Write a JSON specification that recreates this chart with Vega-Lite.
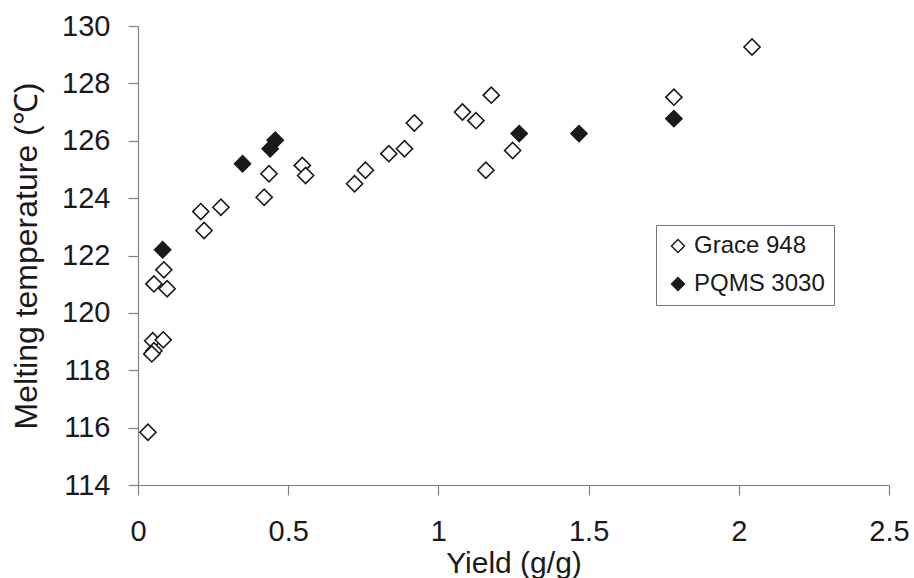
{
  "$schema": "https://vega.github.io/schema/vega-lite/v6.json",
  "width": 751,
  "height": 459,
  "autosize": {"type": "none"},
  "padding": {"left": 138, "top": 26, "right": 25, "bottom": 93},
  "background": "white",
  "config": {
    "view": {"stroke": null},
    "font": "Liberation Sans"
  },
  "data": {
    "values": [
      {"yield": 0.033, "temp": 115.84, "series": "Grace 948"},
      {"yield": 0.049, "temp": 119.03, "series": "Grace 948"},
      {"yield": 0.084, "temp": 119.06, "series": "Grace 948"},
      {"yield": 0.053, "temp": 118.68, "series": "Grace 948"},
      {"yield": 0.046, "temp": 118.57, "series": "Grace 948"},
      {"yield": 0.053, "temp": 121.01, "series": "Grace 948"},
      {"yield": 0.086, "temp": 121.5, "series": "Grace 948"},
      {"yield": 0.097, "temp": 120.84, "series": "Grace 948"},
      {"yield": 0.209, "temp": 123.53, "series": "Grace 948"},
      {"yield": 0.276, "temp": 123.68, "series": "Grace 948"},
      {"yield": 0.22, "temp": 122.87, "series": "Grace 948"},
      {"yield": 0.436, "temp": 124.85, "series": "Grace 948"},
      {"yield": 0.42, "temp": 124.03, "series": "Grace 948"},
      {"yield": 0.547, "temp": 125.14, "series": "Grace 948"},
      {"yield": 0.558, "temp": 124.79, "series": "Grace 948"},
      {"yield": 0.721, "temp": 124.5, "series": "Grace 948"},
      {"yield": 0.757, "temp": 124.97, "series": "Grace 948"},
      {"yield": 0.835, "temp": 125.55, "series": "Grace 948"},
      {"yield": 0.887, "temp": 125.72, "series": "Grace 948"},
      {"yield": 0.92, "temp": 126.62, "series": "Grace 948"},
      {"yield": 1.08, "temp": 127.0, "series": "Grace 948"},
      {"yield": 1.125, "temp": 126.7, "series": "Grace 948"},
      {"yield": 1.176, "temp": 127.59, "series": "Grace 948"},
      {"yield": 1.158, "temp": 124.97, "series": "Grace 948"},
      {"yield": 1.247, "temp": 125.66, "series": "Grace 948"},
      {"yield": 1.784, "temp": 127.52, "series": "Grace 948"},
      {"yield": 2.044, "temp": 129.27, "series": "Grace 948"},
      {"yield": 0.082, "temp": 122.2, "series": "PQMS 3030"},
      {"yield": 0.348, "temp": 125.2, "series": "PQMS 3030"},
      {"yield": 0.44, "temp": 125.72, "series": "PQMS 3030"},
      {"yield": 0.457, "temp": 126.02, "series": "PQMS 3030"},
      {"yield": 1.269, "temp": 126.25, "series": "PQMS 3030"},
      {"yield": 1.468, "temp": 126.25, "series": "PQMS 3030"},
      {"yield": 1.784, "temp": 126.77, "series": "PQMS 3030"}
    ]
  },
  "mark": {"type": "point", "shape": "diamond", "filled": true, "size": 260, "stroke": "#1a1a1a", "strokeWidth": 1.6, "opacity": 1},
  "encoding": {
    "x": {
      "field": "yield", "type": "quantitative",
      "scale": {"domain": [0, 2.5], "nice": false, "zero": false},
      "axis": {
        "title": "Yield (g/g)", "values": [0, 0.5, 1, 1.5, 2, 2.5], "format": "~g",
        "grid": false, "domainColor": "#808080", "tickColor": "#808080", "domainWidth": 1.2, "tickWidth": 1.2,
        "tickSize": 10, "labelPadding": 22, "labelFontSize": 29, "labelColor": "#1a1a1a",
        "titleFontSize": 30, "titleFontWeight": "normal", "titleColor": "#1a1a1a", "titlePadding": 2,
        "labelFlush": false, "labelOverlap": false
      }
    },
    "y": {
      "field": "temp", "type": "quantitative",
      "scale": {"domain": [114, 130], "nice": false, "zero": false},
      "axis": {
        "title": "Melting temperature (℃)", "values": [114, 116, 118, 120, 122, 124, 126, 128, 130],
        "grid": false, "domainColor": "#808080", "tickColor": "#808080", "domainWidth": 1.2, "tickWidth": 1.2,
        "tickSize": 10, "labelPadding": 18, "labelFontSize": 29, "labelColor": "#1a1a1a",
        "titleFontSize": 32, "titleFontWeight": "normal", "titleColor": "#1a1a1a", "titlePadding": 18,
        "labelFlush": false, "labelOverlap": false
      }
    },
    "fill": {
      "field": "series", "type": "nominal",
      "scale": {"domain": ["Grace 948", "PQMS 3030"], "range": ["#ffffff", "#1a1a1a"]},
      "legend": {
        "title": null, "orient": "none", "legendX": 518, "legendY": 199,
        "strokeColor": "#777777", "padding": 9, "fillColor": "white",
        "symbolType": "diamond", "symbolSize": 170, "symbolStrokeColor": "#1a1a1a", "symbolStrokeWidth": 1.4,
        "labelFontSize": 24, "labelColor": "#1a1a1a", "labelOffset": 4, "rowPadding": 14, "symbolOffset": 1
      }
    }
  }
}
